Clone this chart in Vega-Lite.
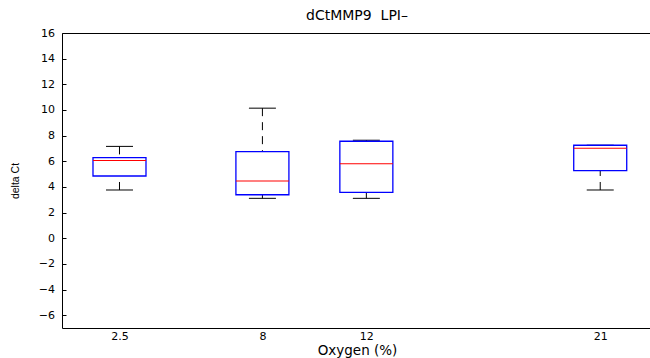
{
  "$schema": "https://vega.github.io/schema/vega-lite/v6.json",
  "autosize": {"type": "none"},
  "padding": {"left": 62, "top": 33, "right": 0, "bottom": 30},
  "width": 590,
  "height": 295,
  "title": {"text": "dCtMMP9\u00a0 LPI–", "fontSize": 14, "fontWeight": "normal", "font": "DejaVu Sans", "color": "#000", "offset": 4, "anchor": "middle"},
  "config": {
    "font": "DejaVu Sans",
    "view": {"stroke": "#000", "strokeWidth": 1},
    "axis": {"labelFont": "DejaVu Sans", "titleFont": "DejaVu Sans", "labelFontSize": 11, "titleFontSize": 13.5, "titleFontWeight": "normal", "labelColor": "#000", "titleColor": "#000", "grid": false, "domain": false, "tickColor": "#000", "labelOverlap": false},
    "axisY": {"labelOverlap": false, "labelBound": false, "labelFlush": false, "offset": -4, "ticks": true, "tickSize": 4, "tickWidth": 1, "labelPadding": 7.5, "titleFont": "Liberation Sans", "titleFontSize": 10.5, "titlePadding": 18}
  },
  "data": {"values": [
    {"oxygen": 2.5, "lower": 3.76, "q1": 4.85, "median": 6.05, "q3": 6.28, "upper": 7.16},
    {"oxygen": 8, "lower": 3.11, "q1": 3.39, "median": 4.46, "q3": 6.75, "upper": 10.14},
    {"oxygen": 12, "lower": 3.11, "q1": 3.58, "median": 5.81, "q3": 7.56, "upper": 7.64},
    {"oxygen": 21, "lower": 3.76, "q1": 5.27, "median": 7.02, "q3": 7.25, "upper": 7.25}
  ]},
  "encoding": {
    "x": {"field": "oxygen", "type": "quantitative", "scale": {"domain": [0.48, 22.8], "nice": false, "zero": false},
      "axis": {"values": [2.5, 8, 12, 21], "format": "~g", "ticks": false, "labelPadding": 2, "labelOverlap": false, "title": "Oxygen (%)", "titlePadding": 2, "labelFlush": false}}
  },
  "layer": [
    {"mark": {"type": "rule", "color": "#000", "strokeWidth": 1, "strokeDash": [8, 6]},
     "encoding": {"y": {"field": "lower", "type": "quantitative", "scale": {"domain": [-7, 16], "nice": false, "zero": false},
        "axis": {"values": [-6, -4, -2, 0, 2, 4, 6, 8, 10, 12, 14, 16], "format": "d", "title": "delta Ct"}},
       "y2": {"field": "q1"}}},
    {"mark": {"type": "rule", "color": "#000", "strokeWidth": 1, "strokeDash": [8, 6]},
     "encoding": {"y": {"field": "upper", "type": "quantitative", "axis": {"values": [-6, -4, -2, 0, 2, 4, 6, 8, 10, 12, 14, 16], "format": "d", "title": "delta Ct"}}, "y2": {"field": "q3"}}},
    {"mark": {"type": "tick", "orient": "horizontal", "color": "#000", "size": 27, "thickness": 1, "opacity": 1},
     "encoding": {"y": {"field": "lower", "type": "quantitative", "axis": {"values": [-6, -4, -2, 0, 2, 4, 6, 8, 10, 12, 14, 16], "format": "d", "title": "delta Ct"}}}},
    {"mark": {"type": "tick", "orient": "horizontal", "color": "#000", "size": 27, "thickness": 1, "opacity": 1},
     "encoding": {"y": {"field": "upper", "type": "quantitative", "axis": {"values": [-6, -4, -2, 0, 2, 4, 6, 8, 10, 12, 14, 16], "format": "d", "title": "delta Ct"}}}},
    {"mark": {"type": "bar", "size": 53, "fill": "white", "fillOpacity": 0, "stroke": "#0000ff", "strokeWidth": 1.3},
     "encoding": {"y": {"field": "q1", "type": "quantitative", "axis": {"values": [-6, -4, -2, 0, 2, 4, 6, 8, 10, 12, 14, 16], "format": "d", "title": "delta Ct"}}, "y2": {"field": "q3"}}},
    {"mark": {"type": "tick", "orient": "horizontal", "color": "#ff0000", "size": 53, "thickness": 1, "opacity": 1},
     "encoding": {"y": {"field": "median", "type": "quantitative", "axis": {"values": [-6, -4, -2, 0, 2, 4, 6, 8, 10, 12, 14, 16], "format": "d", "title": "delta Ct"}}}}
  ]
}
